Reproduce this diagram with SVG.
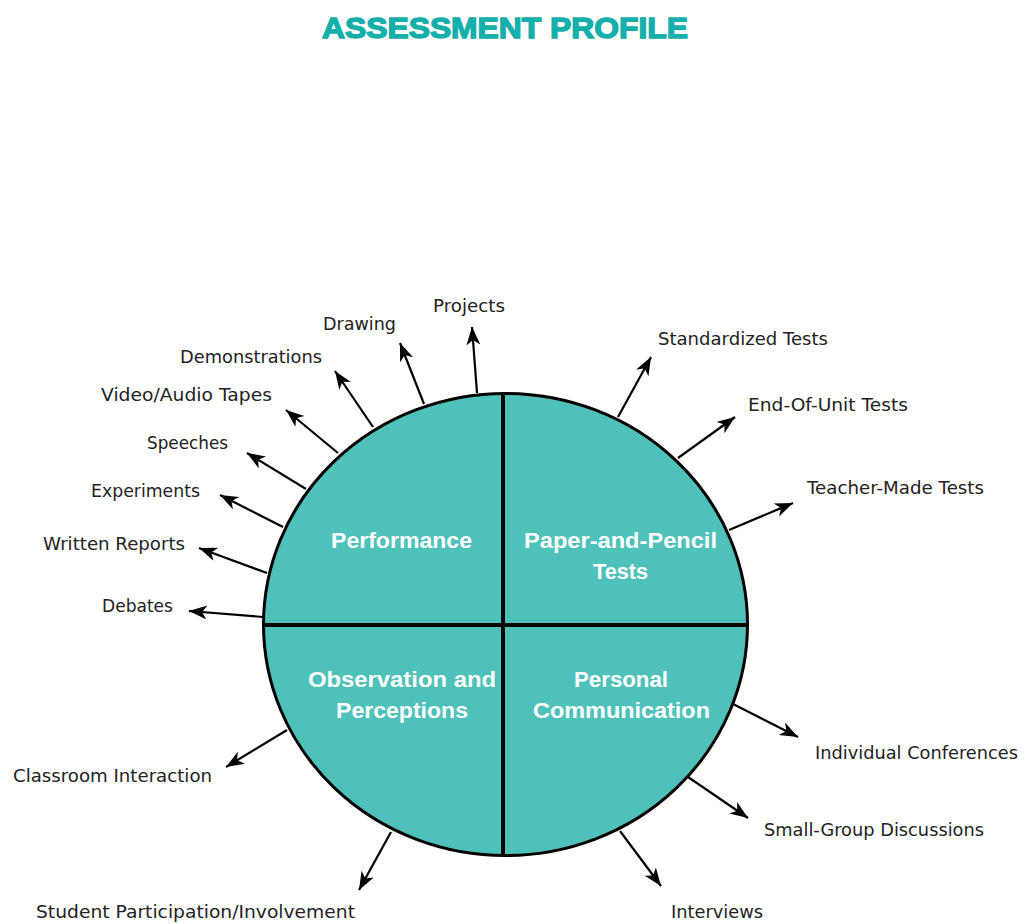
<svg xmlns="http://www.w3.org/2000/svg" width="1025" height="924" viewBox="0 0 1025 924">
<style>
.lbl{font-family:"DejaVu Sans","Liberation Sans",sans-serif;font-size:18.5px;fill:#222;}
.in{font-family:"Liberation Sans",Arial,sans-serif;font-weight:bold;font-size:22.5px;fill:#fff;}
.title{font-family:"Liberation Sans",Arial,sans-serif;font-weight:900;font-size:30px;fill:#14AFAA;stroke:#14AFAA;stroke-width:1.4;}
.arr{stroke:#000;stroke-width:2.2;fill:none;marker-end:url(#ah);}
</style>
<defs>
<marker id="ah" markerUnits="userSpaceOnUse" markerWidth="20" markerHeight="16" refX="18" refY="7" orient="auto">
<path d="M0,0 L18,7 L0,14 L5,7 z" fill="#000"/>
</marker>
</defs>
<rect width="1025" height="924" fill="#fff"/>
<text class="title" x="322" y="38" textLength="366" lengthAdjust="spacingAndGlyphs">ASSESSMENT PROFILE</text>
<g id="connectors">
<line class="arr" x1="477" y1="393" x2="472" y2="327"/>
<line class="arr" x1="424" y1="404" x2="400" y2="343"/>
<line class="arr" x1="373" y1="427" x2="335" y2="371"/>
<line class="arr" x1="338" y1="453" x2="286" y2="410"/>
<line class="arr" x1="306" y1="489" x2="247" y2="453"/>
<line class="arr" x1="283" y1="527" x2="220" y2="495"/>
<line class="arr" x1="267" y1="573" x2="199" y2="548"/>
<line class="arr" x1="263" y1="617" x2="189" y2="611"/>
<line class="arr" x1="618" y1="417" x2="651" y2="357"/>
<line class="arr" x1="678" y1="458" x2="735" y2="417"/>
<line class="arr" x1="729" y1="530" x2="793" y2="503"/>
<line class="arr" x1="287" y1="730" x2="226" y2="767"/>
<line class="arr" x1="391" y1="832" x2="359" y2="890"/>
<line class="arr" x1="733" y1="704" x2="798" y2="737"/>
<line class="arr" x1="688" y1="777" x2="748" y2="818"/>
<line class="arr" x1="620" y1="831" x2="661" y2="886"/>
</g>
<g id="circle">
<ellipse cx="505.5" cy="624.5" rx="242" ry="231" fill="#4FC1BB" stroke="#000" stroke-width="3"/>
<line x1="503" y1="393" x2="503" y2="856" stroke="#000" stroke-width="4"/>
<line x1="263" y1="625" x2="748" y2="625" stroke="#000" stroke-width="4"/>
</g>
<g id="performance"><text class="in" x="331" y="548" textLength="141" lengthAdjust="spacingAndGlyphs">Performance</text></g>
<g id="paper-pencil"><text class="in" x="524" y="548" textLength="193" lengthAdjust="spacingAndGlyphs">Paper-and-Pencil</text><text class="in" x="593" y="579" textLength="55" lengthAdjust="spacingAndGlyphs">Tests</text></g>
<g id="observation"><text class="in" x="308" y="687" textLength="188" lengthAdjust="spacingAndGlyphs">Observation and</text><text class="in" x="336" y="718" textLength="132" lengthAdjust="spacingAndGlyphs">Perceptions</text></g>
<g id="personal"><text class="in" x="574" y="687" textLength="94" lengthAdjust="spacingAndGlyphs">Personal</text><text class="in" x="533" y="718" textLength="177" lengthAdjust="spacingAndGlyphs">Communication</text></g>
<g id="projects"><text class="lbl" x="433" y="312" textLength="72" lengthAdjust="spacingAndGlyphs">Projects</text></g>
<g id="drawing"><text class="lbl" x="323" y="330" textLength="73" lengthAdjust="spacingAndGlyphs">Drawing</text></g>
<g id="demonstrations"><text class="lbl" x="180" y="363" textLength="142" lengthAdjust="spacingAndGlyphs">Demonstrations</text></g>
<g id="video"><text class="lbl" x="101" y="401" textLength="171" lengthAdjust="spacingAndGlyphs">Video/Audio Tapes</text></g>
<g id="speeches"><text class="lbl" x="147" y="449" textLength="81" lengthAdjust="spacingAndGlyphs">Speeches</text></g>
<g id="experiments"><text class="lbl" x="91" y="497" textLength="109" lengthAdjust="spacingAndGlyphs">Experiments</text></g>
<g id="written"><text class="lbl" x="43" y="550" textLength="142" lengthAdjust="spacingAndGlyphs">Written Reports</text></g>
<g id="debates"><text class="lbl" x="102" y="612" textLength="71" lengthAdjust="spacingAndGlyphs">Debates</text></g>
<g id="standardized"><text class="lbl" x="658" y="345" textLength="170" lengthAdjust="spacingAndGlyphs">Standardized Tests</text></g>
<g id="endofunit"><text class="lbl" x="748" y="411" textLength="160" lengthAdjust="spacingAndGlyphs">End-Of-Unit Tests</text></g>
<g id="teachermade"><text class="lbl" x="807" y="494" textLength="177" lengthAdjust="spacingAndGlyphs">Teacher-Made Tests</text></g>
<g id="classroom"><text class="lbl" x="13" y="782" textLength="199" lengthAdjust="spacingAndGlyphs">Classroom Interaction</text></g>
<g id="student"><text class="lbl" x="36" y="918" textLength="319" lengthAdjust="spacingAndGlyphs">Student Participation/Involvement</text></g>
<g id="individual"><text class="lbl" x="815" y="759" textLength="203" lengthAdjust="spacingAndGlyphs">Individual Conferences</text></g>
<g id="smallgroup"><text class="lbl" x="764" y="836" textLength="220" lengthAdjust="spacingAndGlyphs">Small-Group Discussions</text></g>
<g id="interviews"><text class="lbl" x="671" y="918" textLength="92" lengthAdjust="spacingAndGlyphs">Interviews</text></g>
</svg>
